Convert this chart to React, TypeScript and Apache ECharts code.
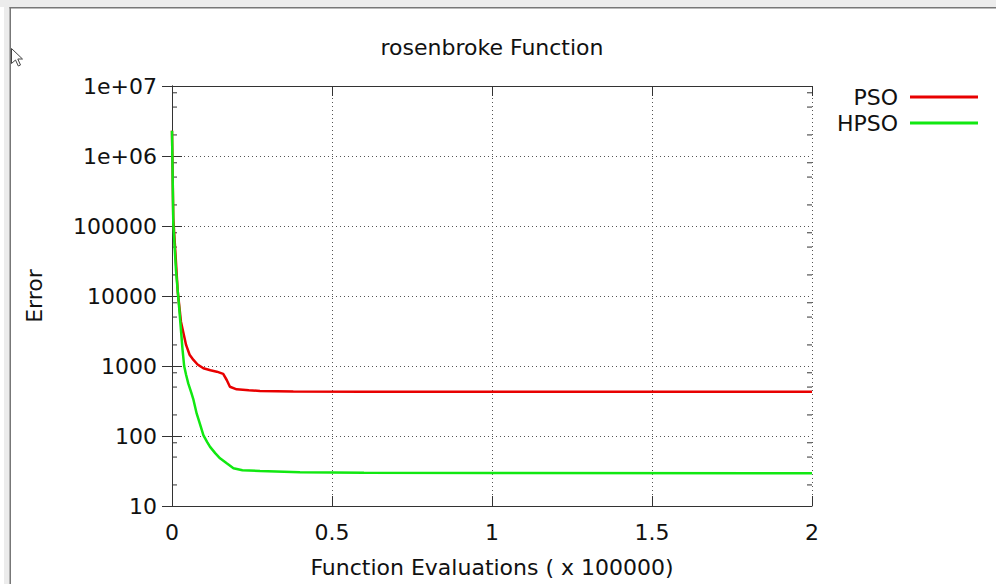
import React, { useEffect, useRef } from "react";
import * as echarts from "echarts";

const titleText = "rosenbroke Function";
const xAxisName = "Function Evaluations ( x 100000)";
const yAxisName = "Error";
const seriesNames = ["PSO", "HPSO"];

const psoX = [0, 0.004, 0.0125, 0.018, 0.028, 0.044, 0.055, 0.067, 0.08, 0.098, 0.12, 0.14, 0.16, 0.171, 0.181, 0.202, 0.24, 0.275, 0.379, 0.6, 1.0, 1.5, 2.0];
const psoY = [2.3e6, 1.3e5, 30000, 11500, 4300, 2000, 1450, 1220, 1050, 927, 870, 830, 770, 631, 505, 464, 450, 440, 432, 430, 430, 430, 430];

const hpsoX = [0, 0.004, 0.0125, 0.023, 0.033, 0.038, 0.044, 0.051, 0.06, 0.067, 0.077, 0.088, 0.098, 0.11, 0.119, 0.135, 0.15, 0.171, 0.192, 0.22, 0.275, 0.4, 0.6, 1.0, 2.0];
const hpsoY = [2.3e6, 1.1e5, 23000, 6300, 1700, 1000, 750, 560, 420, 330, 210, 145, 103, 82, 70, 57, 48, 40.7, 34.6, 32.5, 31.6, 30.3, 29.8, 29.5, 29.3];

const yTickLabels = ["10", "100", "1000", "10000", "100000", "1e+06", "1e+07"];
const yMinorTicks = [20, 50, 80, 200, 500, 800, 2000, 5000, 8000, 20000, 50000, 80000, 2e5, 5e5, 8e5, 2e6, 5e6, 8e6];

const FONT = "DejaVu Sans";
const FS = 22;

export default function App() {
  const ref = useRef<HTMLDivElement>(null);
  useEffect(() => {
    if (!ref.current) return;
    echarts.graphic.registerShape(
      "cursorArrow",
      echarts.graphic.extendPath("M0 0 L0 15 L4 11.5 L6.8 17.5 L9 16.5 L6.3 10.5 L11 10.5 Z", {}) as any
    );
    const chart = echarts.init(ref.current, null, { renderer: "svg" });
    const axisLineStyle = { color: "#333", width: 1 };
    const yLabel = (v: number) => {
      const i = Math.round(Math.log10(v)) - 1;
      return yTickLabels[i] ?? String(v);
    };
    chart.setOption({
      animation: false,
      backgroundColor: "#fff",
      title: {
        text: titleText,
        left: 492,
        top: 35,
        textAlign: "center",
        padding: 0,
        textStyle: { fontFamily: FONT, fontSize: FS, fontWeight: "normal", color: "#111", lineHeight: 24 },
      },
      legend: {
        data: seriesNames,
        right: 18,
        top: 86,
        padding: 0,
        orient: "vertical",
        align: "right",
        itemWidth: 68,
        itemHeight: 3,
        itemGap: 4,
        icon: "rect",
        textStyle: { fontFamily: FONT, fontSize: FS, color: "#111", lineHeight: 21, padding: [0, 7, 0, 0] },
      },
      grid: { left: 172, top: 86, right: 184, bottom: 78 },
      xAxis: [
        {
          type: "value",
          min: 0,
          max: 2,
          interval: 0.5,
          name: xAxisName,
          nameLocation: "middle",
          nameGap: 50,
          nameTextStyle: { fontFamily: FONT, fontSize: FS, color: "#111" },
          axisLine: { show: true, lineStyle: axisLineStyle },
          axisTick: { show: true, inside: true, length: 10, lineStyle: axisLineStyle },
          axisLabel: { fontFamily: FONT, fontSize: FS, color: "#111", margin: 15 },
          splitLine: { show: true, lineStyle: { color: "#555", type: [1, 3], width: 1 } },
        },
        {
          type: "value",
          position: "top",
          min: 0,
          max: 2,
          interval: 0.5,
          axisLine: { show: true, lineStyle: axisLineStyle },
          axisTick: { show: true, inside: true, length: 10, lineStyle: axisLineStyle },
          axisLabel: { show: false },
          splitLine: { show: false },
        },
      ],
      yAxis: [
        {
          type: "log",
          logBase: 10,
          min: 10,
          max: 1e7,
          interval: 1,
          name: yAxisName,
          nameLocation: "middle",
          nameGap: 127,
          nameTextStyle: { fontFamily: FONT, fontSize: FS, color: "#111" },
          axisLine: { show: true, lineStyle: axisLineStyle },
          axisTick: { show: true, inside: true, length: 10, lineStyle: axisLineStyle },
          axisLabel: { fontFamily: FONT, fontSize: FS, color: "#111", margin: 15, formatter: yLabel },
          splitLine: { show: true, lineStyle: { color: "#555", type: [1, 3], width: 1 } },
        },
        {
          type: "log",
          logBase: 10,
          min: 10,
          max: 1e7,
          interval: 1,
          position: "right",
          axisLine: { show: true, lineStyle: axisLineStyle },
          axisTick: { show: true, inside: true, length: 10, lineStyle: axisLineStyle },
          axisLabel: { show: false },
          splitLine: { show: false },
        },
      ],
      graphic: [
        { type: "rect", shape: { x: 4, y: 0, width: 6, height: 584 }, style: { fill: "#ececec" }, silent: true },
        { type: "rect", shape: { x: 0, y: 0, width: 996, height: 7 }, style: { fill: "#ececec" }, silent: true },
        { type: "rect", shape: { x: 9.5, y: 7, width: 1.5, height: 577 }, style: { fill: "#777" }, silent: true },
        { type: "rect", shape: { x: 9.5, y: 7, width: 987, height: 1.5 }, style: { fill: "#777" }, silent: true },
        { type: "cursorArrow", x: 11.5, y: 48.5, style: { fill: "#fff", stroke: "#444", lineWidth: 1 }, silent: true },
      ],
      series: [
        {
          type: "custom",
          name: "minorTicks",
          xAxisIndex: 0,
          yAxisIndex: 0,
          silent: true,
          encode: { x: 0, y: 1 },
          data: yMinorTicks.map((v) => [0, v]),
          renderItem: (params: any, api: any) => {
            const v = api.value(1);
            const pL = api.coord([0, v]);
            const pR = api.coord([2, v]);
            return {
              type: "group",
              children: [
                { type: "line", shape: { x1: pL[0], y1: pL[1], x2: pL[0] + 5, y2: pL[1] }, style: { stroke: "#333", lineWidth: 1 } },
                { type: "line", shape: { x1: pR[0] - 5, y1: pR[1], x2: pR[0], y2: pR[1] }, style: { stroke: "#333", lineWidth: 1 } },
              ],
            };
          },
        },
        {
          type: "line",
          name: seriesNames[0],
          data: psoX.map((x, i) => [x, psoY[i]]),
          showSymbol: false,
          symbol: "none",
          lineStyle: { color: "#e80000", width: 2.5 },
          itemStyle: { color: "#e80000" },
          z: 3,
        },
        {
          type: "line",
          name: seriesNames[1],
          data: hpsoX.map((x, i) => [x, hpsoY[i]]),
          showSymbol: false,
          symbol: "none",
          lineStyle: { color: "#11e811", width: 2.5 },
          itemStyle: { color: "#11e811" },
          z: 4,
        },
      ],
    });
    return () => chart.dispose();
  }, []);
  return <div ref={ref} style={{ position: "absolute", left: 0, top: 0, width: 996, height: 584 }} />;
}
